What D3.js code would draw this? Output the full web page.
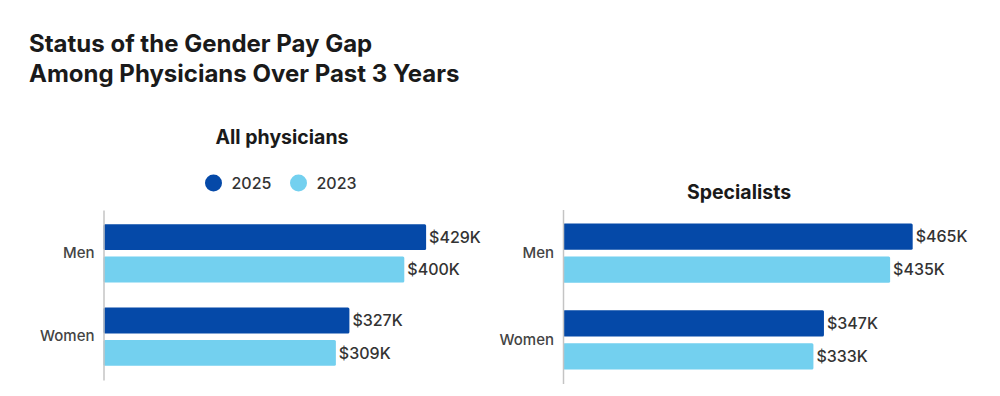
<!DOCTYPE html>
<html>
<head>
<meta charset="utf-8">
<script src="https://cdn.jsdelivr.net/npm/d3@7"></script>
<style>
  html, body { margin: 0; padding: 0; background: #fff; }
  svg { display: block; }
  text { font-family: "Inter", "Open Sans", sans-serif; }
</style>
</head>
<body>
<svg id="chart" width="1000" height="396"></svg>
<script>
// ---- data ----
const categories = ["Men", "Women"];
const seriesNames = ["2025", "2023"];
const allPhysicians2025 = [429, 327];
const allPhysicians2023 = [400, 309];
const specialists2025 = [465, 347];
const specialists2023 = [435, 333];
const titleLines = ["Status of the Gender Pay Gap", "Among Physicians Over Past 3 Years"];
const panelTitles = ["All physicians", "Specialists"];

const colors = { "2025": "#0549A8", "2023": "#73D0EF" };
const FONT = '"Inter", "Open Sans", sans-serif';

const svg = d3.select("#chart");

// title
svg.selectAll("text.title").data(titleLines).join("text")
  .attr("class", "title")
  .attr("x", 29).attr("y", (d, i) => 52 + i * 30)
  .attr("font-size", 24).attr("font-weight", 700).attr("fill", "#1a1a1a")
  .text(d => d);

function panel(cfg) {
  const g = svg.append("g");
  const x = d3.scaleLinear().domain([0, 500]).range([cfg.x0, cfg.x0 + 376]);
  const y = d3.scaleBand().domain(categories).range(cfg.yRange)
    .paddingInner(cfg.padIn).paddingOuter(cfg.padOut);
  const ys = d3.scaleBand().domain(seriesNames).range([0, y.bandwidth()]).paddingInner(0.2);

  const rows = [];
  categories.forEach((c, i) => {
    seriesNames.forEach((s, j) => {
      rows.push({ cat: c, series: s, value: cfg.values[j][i] });
    });
  });

  g.selectAll("rect.bar").data(rows).join("rect")
    .attr("class", "bar")
    .attr("x", x(0))
    .attr("y", d => y(d.cat) + ys(d.series))
    .attr("width", d => x(d.value) - x(0))
    .attr("height", ys.bandwidth())
    .attr("rx", 1.5)
    .attr("fill", d => colors[d.series]);

  g.selectAll("text.val").data(rows).join("text")
    .attr("class", "val")
    .attr("x", d => x(d.value) + 3)
    .attr("y", d => y(d.cat) + ys(d.series) + ys.bandwidth() / 2)
    .attr("dy", "0.36em")
    .attr("font-size", 16).attr("font-weight", 500).attr("fill", "#333")
    .text(d => "$" + d.value + "K");

  const ax = g.append("g")
    .attr("transform", `translate(${x(0)},0)`)
    .call(d3.axisLeft(y).tickSize(0).tickPadding(9));
  ax.select(".domain").attr("stroke", "#c4c4c4").attr("stroke-width", 1.5);
  ax.selectAll(".tick text")
    .attr("font-size", 15).attr("font-weight", 500).attr("fill", "#444")
    .attr("font-family", FONT);

  g.append("text")
    .attr("x", cfg.titleX).attr("y", cfg.titleY)
    .attr("text-anchor", "middle")
    .attr("font-size", 19.5).attr("font-weight", 700).attr("fill", "#1a1a1a")
    .text(cfg.title);
}

panel({
  x0: 103.5, yRange: [210, 380], padIn: 0.30, padOut: 0.17,
  values: [allPhysicians2025, allPhysicians2023],
  title: panelTitles[0], titleX: 282, titleY: 144
});
panel({
  x0: 563, yRange: [209.5, 383.5], padIn: 0.315, padOut: 0.16,
  values: [specialists2025, specialists2023],
  title: panelTitles[1], titleX: 739, titleY: 199
});

// legend
const legend = svg.append("g").attr("transform", "translate(213.5,183)");
const li = legend.selectAll("g").data(seriesNames).join("g")
  .attr("transform", (d, i) => `translate(${i * 85},0)`);
li.append("circle").attr("r", 8.5).attr("fill", d => colors[d]);
li.append("text").attr("x", 18).attr("dy", "0.36em")
  .attr("font-size", 16).attr("font-weight", 500).attr("fill", "#333").text(d => d);
</script>
</body>
</html>
